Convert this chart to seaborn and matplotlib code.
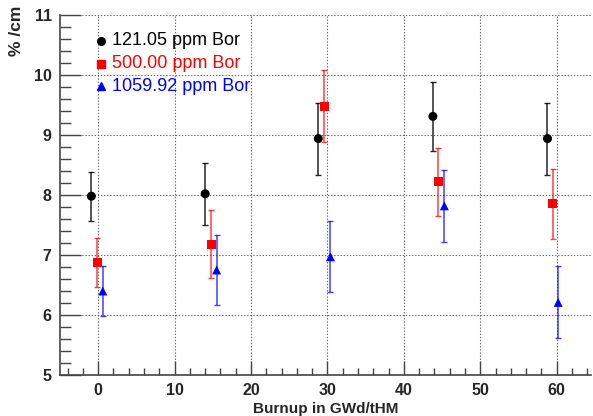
import numpy as np
import pandas as pd
import matplotlib
matplotlib.use("Agg")
import matplotlib.pyplot as plt
import seaborn as sns
from matplotlib.ticker import MultipleLocator

# Burnup positions (slightly staggered per series) and measured values
burnup_121 = [-0.9, 14.0, 28.8, 43.8, 58.8]
value_121 = [7.98, 8.02, 8.94, 9.31, 8.94]
err_121 = [0.41, 0.52, 0.60, 0.58, 0.60]

burnup_500 = [-0.1, 14.8, 29.6, 44.5, 59.5]
value_500 = [6.87, 7.18, 9.48, 8.22, 7.85]
err_500 = [0.41, 0.57, 0.60, 0.57, 0.59]

burnup_1060 = [0.6, 15.5, 30.4, 45.3, 60.2]
value_1060 = [6.40, 6.75, 6.97, 7.82, 6.21]
err_1060 = [0.41, 0.58, 0.59, 0.60, 0.60]

labels = ["121.05 ppm Bor", "500.00 ppm Bor", "1059.92 ppm Bor"]
colors = ["#000000", "#ff0000", "#0000ff"]
markers = ["o", "s", "^"]

frames = []
for lab, bx, vy, ey in [(labels[0], burnup_121, value_121, err_121),
                        (labels[1], burnup_500, value_500, err_500),
                        (labels[2], burnup_1060, value_1060, err_1060)]:
    frames.append(pd.DataFrame({"burnup": bx, "value": vy, "err": ey, "series": lab}))
df = pd.concat(frames, ignore_index=True)

sns.set_style("ticks")
plt.rcParams["font.family"] = ["Liberation Sans", "DejaVu Sans"]

fig = plt.figure(figsize=(5.93, 4.16), dpi=100)
ax = fig.add_axes([0.1012, 0.0986, 0.8955, 0.8654])

# error bars per series
for lab, col in zip(labels, colors):
    sub = df[df["series"] == lab]
    ax.errorbar(sub["burnup"], sub["value"], yerr=sub["err"], fmt="none",
                ecolor=col, elinewidth=1.1, capsize=2.2, capthick=1.0,
                alpha=0.75 if col != "#000000" else 0.85, zorder=3)

sns.scatterplot(data=df, x="burnup", y="value", hue="series", style="series",
                palette=dict(zip(labels, colors)), markers=dict(zip(labels, markers)),
                s=42, edgecolor="none", ax=ax, legend=False, zorder=4)

ax.set_xlim(-5, 64.5)
ax.set_ylim(5, 11)

ax.xaxis.set_major_locator(MultipleLocator(10))
ax.xaxis.set_minor_locator(MultipleLocator(2))
ax.yaxis.set_major_locator(MultipleLocator(1))
ax.yaxis.set_minor_locator(MultipleLocator(0.2))

ax.tick_params(axis="y", which="major", direction="in", length=15, width=1.0,
               color="#444444", labelsize=11.5, pad=6)
ax.tick_params(axis="y", which="minor", direction="in", length=8, width=1.0,
               color="#444444")
ax.tick_params(axis="x", which="major", direction="in", length=10, width=1.0,
               color="#444444", labelsize=11.5, pad=6)
ax.tick_params(axis="x", which="minor", direction="in", length=5, width=1.0,
               color="#444444")
ax.tick_params(axis="x", which="both", top=False)
ax.tick_params(axis="y", which="both", right=False)
for lbl in ax.get_xticklabels() + ax.get_yticklabels():
    lbl.set_fontweight("bold")

ax.grid(True, which="major", linestyle=(0, (1.2, 1.6)), color="#666666", linewidth=0.8)
ax.set_axisbelow(True)

for side in ["top", "right"]:
    ax.spines[side].set_visible(False)
for side in ["left", "bottom"]:
    ax.spines[side].set_color("#444444")
    ax.spines[side].set_linewidth(1.2)

ax.set_xlabel("Burnup in GWd/tHM", fontsize=11, fontweight="bold", labelpad=3)
ax.set_ylabel("% /cm", fontsize=12.5, fontweight="bold")
ax.yaxis.set_label_coords(-0.068, 0.955)

# legend without frame: marker + coloured text
leg_y = [10.57, 10.19, 9.81]
for lab, col, mk, yy in zip(labels, colors, markers, leg_y):
    ax.plot([0.4], [yy], marker=mk, color=col, markersize=5.5, linestyle="none",
            zorder=5)
    ax.text(1.8, yy, lab, color=col, fontsize=13, va="center", ha="left", zorder=5)

fig.savefig("out.png", dpi=100)
